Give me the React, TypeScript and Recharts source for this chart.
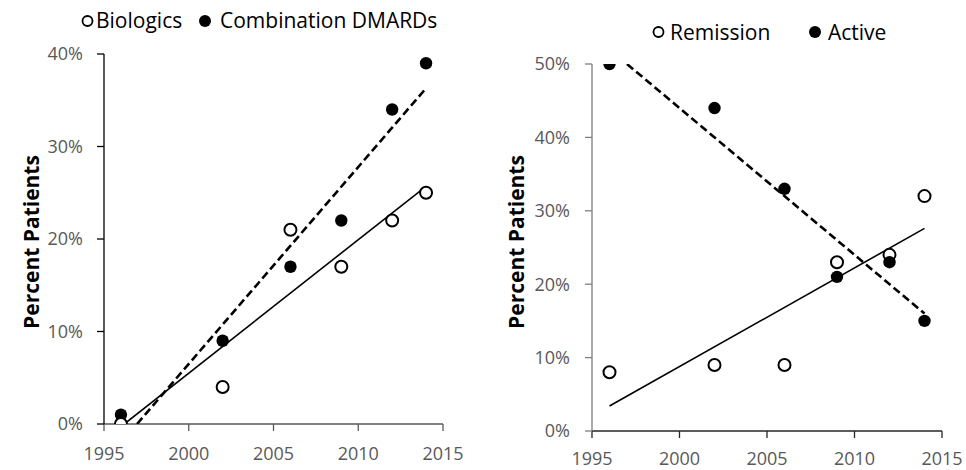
import React from 'react';
import { ScatterChart, Scatter, XAxis, YAxis } from 'recharts';

// ---- data ----
const years = [1996, 2002, 2006, 2009, 2012, 2014];
const biologics = [0, 4, 21, 17, 22, 25];
const combinationDMARDs = [1, 9, 17, 22, 34, 39];
const remission = [8, 9, 9, 23, 24, 32];
const active = [50, 44, 33, 21, 23, 15];

const xTicks = [1995, 2000, 2005, 2010, 2015];
const leftYTicks = [0, 10, 20, 30, 40];
const rightYTicks = [0, 10, 20, 30, 40, 50];

// trend line end points (as drawn, clipped to the plot area)
const biologicsTrend = [
  { x: 1996.2, y: 0 },
  { x: 2014, y: 25.7 },
];
const dmardsTrend = [
  { x: 1996.95, y: 0 },
  { x: 2014, y: 36.3 },
];
const remissionTrend = [
  { x: 1996, y: 3.4 },
  { x: 2014, y: 27.6 },
];
const activeTrend = [
  { x: 1997, y: 50 },
  { x: 2014, y: 16 },
];

const toPts = (vals: number[]) => years.map((x, i) => ({ x, y: vals[i] }));

const FONT = '"Open Sans", sans-serif';
const TICK_COLOR = '#595959';

const OpenDot = (p: any) => (
  <circle cx={p.cx} cy={p.cy} r={6} fill="#fff" stroke="#000" strokeWidth={2} />
);
const FilledDot = (p: any) => <circle cx={p.cx} cy={p.cy} r={6.2} fill="#000" />;
const NoDot = () => <g />;

const pct = (v: number) => `${v}%`;

const tickStyle = { fill: TICK_COLOR, fontSize: 18, fontFamily: FONT };

const AxisTitle = ({ bx, cy }: { bx: number; cy: number }) => (
  <text
    x={bx}
    y={cy}
    transform={`rotate(-90, ${bx}, ${cy})`}
    textAnchor="middle"
    fontFamily={FONT}
    fontWeight={700}
    fontSize={21}
    fill="#000"
  >
    Percent Patients
  </text>
);

export default function App() {
  return (
    <div style={{ position: 'absolute', left: 0, top: 0, width: 966, height: 470, background: '#fff' }}>
      {/* Left chart */}
      <div style={{ position: 'absolute', left: 0, top: 0 }}>
        <ScatterChart width={480} height={470} margin={{ top: 54, right: 37, bottom: 0, left: 0 }}>
          <XAxis
            type="number"
            dataKey="x"
            domain={[1995, 2015]}
            ticks={xTicks}
            allowDataOverflow
            height={46}
            tickSize={7}
            tickMargin={16}
            tick={tickStyle}
            axisLine={{ stroke: '#595959', strokeWidth: 1.3 }}
            tickLine={{ stroke: '#595959', strokeWidth: 1.3 }}
          />
          <YAxis
            type="number"
            dataKey="y"
            domain={[0, 40]}
            ticks={leftYTicks}
            allowDataOverflow
            width={104}
            tickSize={7}
            tickMargin={14}
            tickFormatter={pct}
            tick={tickStyle}
            axisLine={{ stroke: '#000', strokeWidth: 1.3 }}
            tickLine={{ stroke: '#000', strokeWidth: 1.3 }}
          />
          <Scatter
            name="Combination DMARDs trend"
            data={dmardsTrend}
            line={{ stroke: '#000', strokeWidth: 2.6, strokeDasharray: '8 4' }}
            shape={NoDot}
            isAnimationActive={false}
          />
          <Scatter
            name="Biologics trend"
            data={biologicsTrend}
            line={{ stroke: '#000', strokeWidth: 1.6 }}
            shape={NoDot}
            isAnimationActive={false}
          />
          <Scatter name="Combination DMARDs" data={toPts(combinationDMARDs)} shape={FilledDot} isAnimationActive={false} />
          <Scatter name="Biologics" data={toPts(biologics)} shape={OpenDot} isAnimationActive={false} />
        </ScatterChart>
        <svg width={480} height={470} style={{ position: 'absolute', left: 0, top: 0, pointerEvents: 'none' }}>
          <AxisTitle bx={38.5} cy={242} />
          <circle cx={87.5} cy={21} r={5} fill="#fff" stroke="#000" strokeWidth={1.8} />
          <text x={96} y={28} fontFamily={FONT} fontSize={21} fill="#000">Biologics</text>
          <circle cx={205} cy={21} r={6} fill="#000" />
          <text x={220} y={28} fontFamily={FONT} fontSize={21} fill="#000">Combination DMARDs</text>
        </svg>
      </div>

      {/* Right chart */}
      <div style={{ position: 'absolute', left: 480, top: 0 }}>
        <ScatterChart width={486} height={470} margin={{ top: 64, right: 24, bottom: 0, left: 0 }}>
          <XAxis
            type="number"
            dataKey="x"
            domain={[1995, 2015]}
            ticks={xTicks}
            allowDataOverflow
            height={39}
            tickSize={7}
            tickMargin={14}
            tick={tickStyle}
            axisLine={{ stroke: '#262626', strokeWidth: 1.3 }}
            tickLine={{ stroke: '#262626', strokeWidth: 1.3 }}
          />
          <YAxis
            type="number"
            dataKey="y"
            domain={[0, 50]}
            ticks={rightYTicks}
            allowDataOverflow
            width={112}
            tickSize={7}
            tickMargin={15}
            tickFormatter={pct}
            tick={tickStyle}
            axisLine={{ stroke: '#7f7f7f', strokeWidth: 1.3 }}
            tickLine={{ stroke: '#7f7f7f', strokeWidth: 1.3 }}
          />
          <Scatter
            name="Remission trend"
            data={remissionTrend}
            line={{ stroke: '#000', strokeWidth: 1.6 }}
            shape={NoDot}
            isAnimationActive={false}
          />
          <Scatter
            name="Active trend"
            data={activeTrend}
            line={{ stroke: '#000', strokeWidth: 2.6, strokeDasharray: '8 4' }}
            shape={NoDot}
            isAnimationActive={false}
          />
          <Scatter name="Remission" data={toPts(remission)} shape={OpenDot} isAnimationActive={false} />
          <Scatter name="Active" data={toPts(active)} shape={FilledDot} isAnimationActive={false} />
        </ScatterChart>
        <svg width={486} height={470} style={{ position: 'absolute', left: 0, top: 0, pointerEvents: 'none' }}>
          <AxisTitle bx={44} cy={242} />
          <circle cx={178.5} cy={32} r={5} fill="#fff" stroke="#000" strokeWidth={1.8} />
          <text x={190} y={40} fontFamily={FONT} fontSize={21} fill="#000">Remission</text>
          <circle cx={335} cy={32} r={6} fill="#000" />
          <text x={348} y={40} fontFamily={FONT} fontSize={21} fill="#000">Active</text>
        </svg>
      </div>
    </div>
  );
}
